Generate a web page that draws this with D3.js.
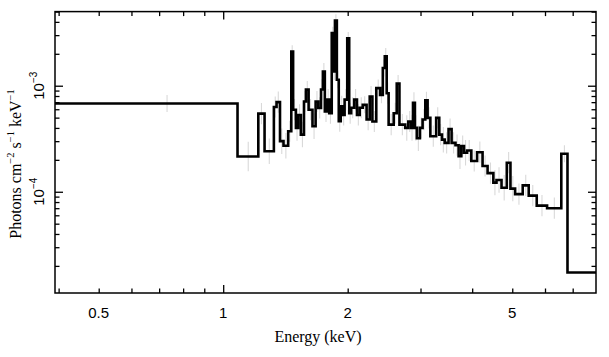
<!DOCTYPE html>
<html><head><meta charset="utf-8">
<script src="https://cdn.jsdelivr.net/npm/d3@7"></script>
<style>body{margin:0;background:#fff} svg{display:block}</style>
</head><body>
<script>
// Bin edges (keV) and unfolded flux per bin (photons cm^-2 s^-1 keV^-1)
const binEdges = [0.38, 1.083, 1.216, 1.259, 1.326, 1.346, 1.372, 1.399, 1.436, 1.461,
  1.476, 1.499, 1.518, 1.541, 1.568, 1.585, 1.609, 1.644, 1.673, 1.698,
  1.724, 1.742, 1.761, 1.784, 1.804, 1.830, 1.850, 1.863, 1.883, 1.903,
  1.924, 1.945, 1.966, 1.995, 2.017, 2.039, 2.074, 2.106, 2.138, 2.175,
  2.222, 2.261, 2.295, 2.345, 2.396, 2.432, 2.459, 2.485, 2.512, 2.584,
  2.628, 2.668, 2.755, 2.803, 2.846, 2.877, 2.908, 2.939, 2.990, 3.035,
  3.081, 3.121, 3.169, 3.273, 3.330, 3.381, 3.432, 3.507, 3.567, 3.645,
  3.709, 3.765, 3.822, 3.888, 3.981, 4.111, 4.238, 4.358, 4.50, 4.58,
  4.71, 4.85, 4.95, 5.08, 5.30, 5.48, 5.73, 6.07, 6.57, 6.80, 8.2];
const fluxValues = [6.8e-4, 2.15e-4, 5.46e-4, 2.41e-4, 6.3e-4, 7.0e-4, 3.0e-4, 2.72e-4, 3.72e-4, 2.1e-3,
  5.94e-4, 4.0e-4, 5.3e-4, 3.46e-4, 7.1e-4, 9.2e-4, 5.94e-4, 4.15e-4, 7.1e-4, 6.17e-4,
  9.2e-4, 1.36e-3, 5.73e-4, 7.4e-4, 5.5e-4, 3.13e-3, 1.36e-3, 4.11e-3, 1.14e-3, 4.63e-4,
  6.4e-4, 5.3e-4, 7.4e-4, 2.8e-3, 5.5e-4, 6.2e-4, 7.4e-4, 5.3e-4, 6.2e-4, 6.6e-4,
  4.8e-4, 7.9e-4, 4.6e-4, 9.5e-4, 8.2e-4, 1.47e-3, 1.89e-3, 8.5e-4, 4.3e-4, 5.5e-4,
  1.05e-3, 4.3e-4, 4.0e-4, 4.6e-4, 4.0e-4, 6.9e-4, 4.0e-4, 3.2e-4, 4.0e-4, 4.8e-4,
  7.3e-4, 4.97e-4, 3.34e-4, 4.97e-4, 3.46e-4, 3.1e-4, 2.89e-4, 3.9e-4, 2.89e-4, 2.75e-4,
  2.16e-4, 2.7e-4, 2.33e-4, 2.45e-4, 1.95e-4, 2.36e-4, 1.75e-4, 1.50e-4, 1.22e-4, 1.29e-4,
  1.09e-4, 1.88e-4, 1.07e-4, 9.5e-5, 1.15e-4, 9.2e-5, 7.4e-5, 7.0e-5, 2.28e-4, 1.73e-5];
// Half-length of each error bar, in dex
const errDex = [0.08, 0.14, 0.1, 0.12, 0.1, 0.1, 0.12, 0.12, 0.1, 0.06,
  0.1, 0.12, 0.1, 0.12, 0.1, 0.08, 0.1, 0.12, 0.1, 0.1,
  0.1, 0.08, 0.1, 0.1, 0.1, 0.06, 0.08, 0.06, 0.08, 0.1,
  0.1, 0.1, 0.1, 0.06, 0.1, 0.1, 0.1, 0.1, 0.1, 0.08,
  0.1, 0.1, 0.1, 0.08, 0.08, 0.08, 0.08, 0.1, 0.1, 0.1,
  0.08, 0.1, 0.12, 0.1, 0.12, 0.1, 0.12, 0.12, 0.1, 0.1,
  0.08, 0.1, 0.1, 0.1, 0.1, 0.12, 0.1, 0.1, 0.1, 0.1,
  0.12, 0.1, 0.12, 0.1, 0.1, 0.1, 0.1, 0.1, 0.12, 0.12,
  0.12, 0.1, 0.12, 0.1, 0.1, 0.1, 0.1, 0.1, 0.08, 0];

const xTickMajor = [1];
const xTickMinor = [0.4, 0.5, 0.6, 0.7, 0.8, 0.9, 2, 3, 4, 5, 6, 7];
const xTickLabels = ["0.5", "1", "2", "5"];
const yTickMajor = [1e-4, 1e-3];
const yTickMinor = [2e-5, 3e-5, 4e-5, 5e-5, 6e-5, 7e-5, 8e-5, 9e-5,
  2e-4, 3e-4, 4e-4, 5e-4, 6e-4, 7e-4, 8e-4, 9e-4, 2e-3, 3e-3, 4e-3, 5e-3];
const yTickLabels = [{v: 1e-3, base: "10", exp: "−3"}, {v: 1e-4, base: "10", exp: "−4"}];

const W = 609, H = 357;
const L = 55, R = 596, T = 11.6, B = 293;
const x = d3.scaleLog().domain([0.392, 7.97]).range([L, R]);
const y = d3.scaleLog().domain([1.11e-5, 5.0e-3]).range([B, T]);

const svg = d3.select("body").append("svg").attr("width", W).attr("height", H);
svg.append("defs").append("clipPath").attr("id", "clip")
  .append("rect").attr("x", L).attr("y", T).attr("width", R - L).attr("height", B - T);

const bins = fluxValues.map((v, i) => ({x0: binEdges[i], x1: binEdges[i + 1], v, e: errDex[i]}));

const plot = svg.append("g").attr("clip-path", "url(#clip)");
// error bars
plot.selectAll("line.err").data(bins.filter(d => d.e > 0)).join("line")
  .attr("class", "err")
  .attr("x1", d => x((d.x0 + d.x1) / 2)).attr("x2", d => x((d.x0 + d.x1) / 2))
  .attr("y1", d => y(d.v * Math.pow(10, d.e))).attr("y2", d => y(d.v / Math.pow(10, d.e)))
  .attr("stroke", "#d9d9d9").attr("stroke-width", 1.1);

// step histogram
const pts = bins.map(d => [d.x0, d.v]);
pts.push([binEdges[binEdges.length - 1], fluxValues[fluxValues.length - 1]]);
plot.append("path")
  .attr("d", d3.line().x(d => x(d[0])).y(d => y(d[1])).curve(d3.curveStepAfter)(pts))
  .attr("fill", "none").attr("stroke", "#000").attr("stroke-width", 2.6)
  .attr("stroke-linejoin", "miter");

// axes ticks (inward)
function ticks(axisFn, scale, vals, len, transform) {
  const g = svg.append("g").attr("transform", transform)
    .call(axisFn(scale).tickValues(vals).tickSize(-len).tickFormat(""));
  g.select(".domain").remove();
  g.selectAll(".tick line").attr("stroke", "#000").attr("stroke-width", 1.3);
}
ticks(d3.axisBottom, x, xTickMinor, 4.5, `translate(0,${B})`);
ticks(d3.axisBottom, x, xTickMajor, 8, `translate(0,${B})`);
ticks(d3.axisTop, x, xTickMinor, 4.5, `translate(0,${T})`);
ticks(d3.axisTop, x, xTickMajor, 8, `translate(0,${T})`);
ticks(d3.axisLeft, y, yTickMinor, 4.5, `translate(${L},0)`);
ticks(d3.axisLeft, y, yTickMajor, 8, `translate(${L},0)`);
ticks(d3.axisRight, y, yTickMinor, 4.5, `translate(${R},0)`);
ticks(d3.axisRight, y, yTickMajor, 8, `translate(${R},0)`);

// frame
svg.append("rect").attr("x", L).attr("y", T).attr("width", R - L).attr("height", B - T)
  .attr("fill", "none").attr("stroke", "#000").attr("stroke-width", 1.5);

// x tick labels
svg.selectAll("text.xl").data(xTickLabels).join("text")
  .attr("x", d => x(+d)).attr("y", 318)
  .attr("text-anchor", "middle").attr("font-family", "Liberation Sans, Arial, sans-serif")
  .attr("font-size", 15).text(d => d);

// y tick labels (rotated)
yTickLabels.forEach(t => {
  const tx = svg.append("text")
    .attr("transform", `translate(44,${y(t.v)}) rotate(-90)`)
    .attr("text-anchor", "middle").attr("font-family", "Liberation Sans, Arial, sans-serif")
    .attr("font-size", 15);
  tx.append("tspan").text(t.base);
  tx.append("tspan").attr("font-size", 10).attr("dy", -7).text(t.exp);
});

// axis titles
svg.append("text").attr("x", 318).attr("y", 342).attr("text-anchor", "middle")
  .attr("font-family", "Liberation Serif, Times New Roman, serif").attr("font-size", 16)
  .text("Energy (keV)");

const yt = svg.append("text").attr("transform", "translate(21,164) rotate(-90)")
  .attr("text-anchor", "middle")
  .attr("font-family", "Liberation Serif, Times New Roman, serif").attr("font-size", 16);
const parts = [["Photons cm", 0], ["−2", 1], [" s", 0], ["−1", 1], [" keV", 0], ["−1", 1]];
parts.forEach(([s, sup], i) => {
  const ts = yt.append("tspan").text(s);
  if (sup) ts.attr("font-size", 10.5).attr("dy", -7);
  else if (i > 0) ts.attr("dy", 7);
});
</script>
</body></html>
